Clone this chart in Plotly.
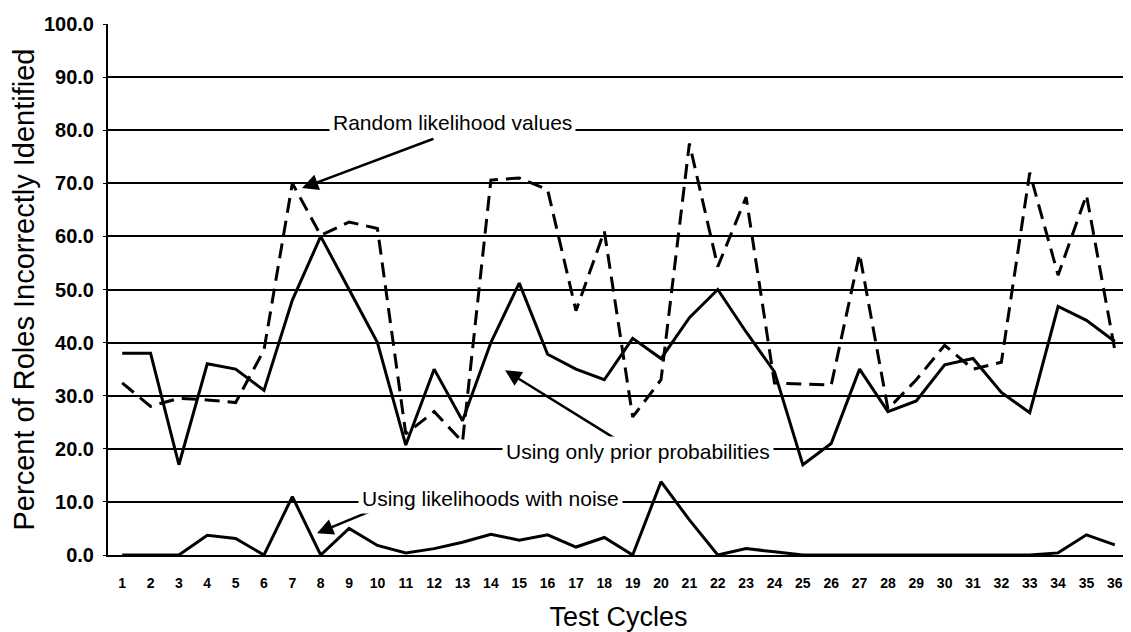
import plotly.graph_objects as go

cycles = list(range(1, 37))
tick_labels = [str(c) for c in cycles]

prior_only = [38, 38, 17, 36, 35, 31, 48, 60, 50, 40, 20.7, 35, 25.3, 40, 51.2, 37.8,
              35, 33, 40.8, 37, 44.7, 50, 42, 34.5, 17, 21, 35, 27, 29, 35.8,
              37, 30.6, 26.8, 46.8, 44.2, 40.2]
random_lik = [32.4, 28, 29.5, 29.2, 28.7, 38.6, 70, 60.2, 62.7, 61.5, 22.8, 27, 21.3, 70.6,
              71, 68.8, 46, 61, 26, 33, 77.5, 54.3, 67.4, 32.4, 32.2, 32, 56.7, 27.5,
              33, 39.5, 35, 36.3, 72, 52.7, 67.8, 38.6]
noise_lik = [0, 0, 0, 3.7, 3.1, 0, 11, 0, 5, 1.8, 0.4, 1.2, 2.4, 3.9, 2.8, 3.8,
             1.5, 3.3, 0, 13.8, 6.6, 0, 1.2, 0.6, 0, 0, 0, 0, 0, 0,
             0, 0, 0, 0.4, 3.8, 1.9]

y_ticks = [0, 10, 20, 30, 40, 50, 60, 70, 80, 90, 100]
y_tick_text = [f"{v:.1f}" for v in y_ticks]

ann_labels = ["Random likelihood values", "Using only prior probabilities",
              "Using likelihoods with noise"]

fig = go.Figure()
fig.add_trace(go.Scatter(x=cycles, y=random_lik, mode="lines", name="Random likelihood values",
                         line=dict(color="black", width=3, dash="15px,8px")))
fig.add_trace(go.Scatter(x=cycles, y=prior_only, mode="lines", name="Using only prior probabilities",
                         line=dict(color="black", width=3)))
fig.add_trace(go.Scatter(x=cycles, y=noise_lik, mode="lines", name="Using likelihoods with noise",
                         line=dict(color="black", width=3)))

font_family = "Liberation Sans, Arial, sans-serif"

# arrows (head at x,y ; tail at ax,ay)
arrows = [
    dict(x=7.34, y=69.1, ax=12.03, ay=78.5),
    dict(x=14.5, y=34.8, ax=18.45, ay=21.7),
    dict(x=7.87, y=4.1, ax=10.09, ay=9.0),
]
for a in arrows:
    fig.add_annotation(x=a["x"], y=a["y"], ax=a["ax"], ay=a["ay"], xref="x", yref="y",
                       axref="x", ayref="y", showarrow=True, arrowhead=2, arrowsize=1.3,
                       arrowwidth=2.5, arrowcolor="black", text="")

label_pos = [(12.65, 81.4), (19.19, 19.4), (13.97, 10.7)]
for (lx, ly), txt in zip(label_pos, ann_labels):
    fig.add_annotation(x=lx, y=ly, xref="x", yref="y", text=txt, showarrow=False,
                       bgcolor="white", borderpad=3,
                       font=dict(family=font_family, size=21, color="black"))

fig.add_shape(type="line", xref="paper", yref="paper", x0=1, x1=1, y0=0, y1=1,
              line=dict(color="#777", width=1.5))

fig.update_layout(
    width=1123, height=624,
    margin=dict(l=100, r=2, t=16, b=77),
    plot_bgcolor="white", paper_bgcolor="white",
    showlegend=False,
    font=dict(family=font_family, color="black"),
    xaxis=dict(
        range=[0.5, 36.5], tickvals=cycles, ticktext=tick_labels,
        showgrid=False, zeroline=False, showline=True, linecolor="black", linewidth=2,
        ticks="", ticklabelstandoff=14, automargin=False,
        tickfont=dict(family=font_family, size=14, color="black", weight="bold"),
        title=dict(text="Test Cycles", standoff=19,
                   font=dict(family=font_family, size=27, color="black")),
    ),
    yaxis=dict(
        range=[0, 100], tickvals=y_ticks, ticktext=y_tick_text,
        showgrid=True, gridcolor="black", gridwidth=2, zeroline=False,
        showline=True, linecolor="black", linewidth=2, automargin=False,
        ticks="outside", ticklen=3, tickcolor="black", ticklabelstandoff=5,
        tickfont=dict(family=font_family, size=20, color="black", weight="bold"),
        title=dict(text="Percent of Roles Incorrectly Identified", standoff=2,
                   font=dict(family=font_family, size=29, color="black")),
    ),
)

fig.write_html("out.html")
